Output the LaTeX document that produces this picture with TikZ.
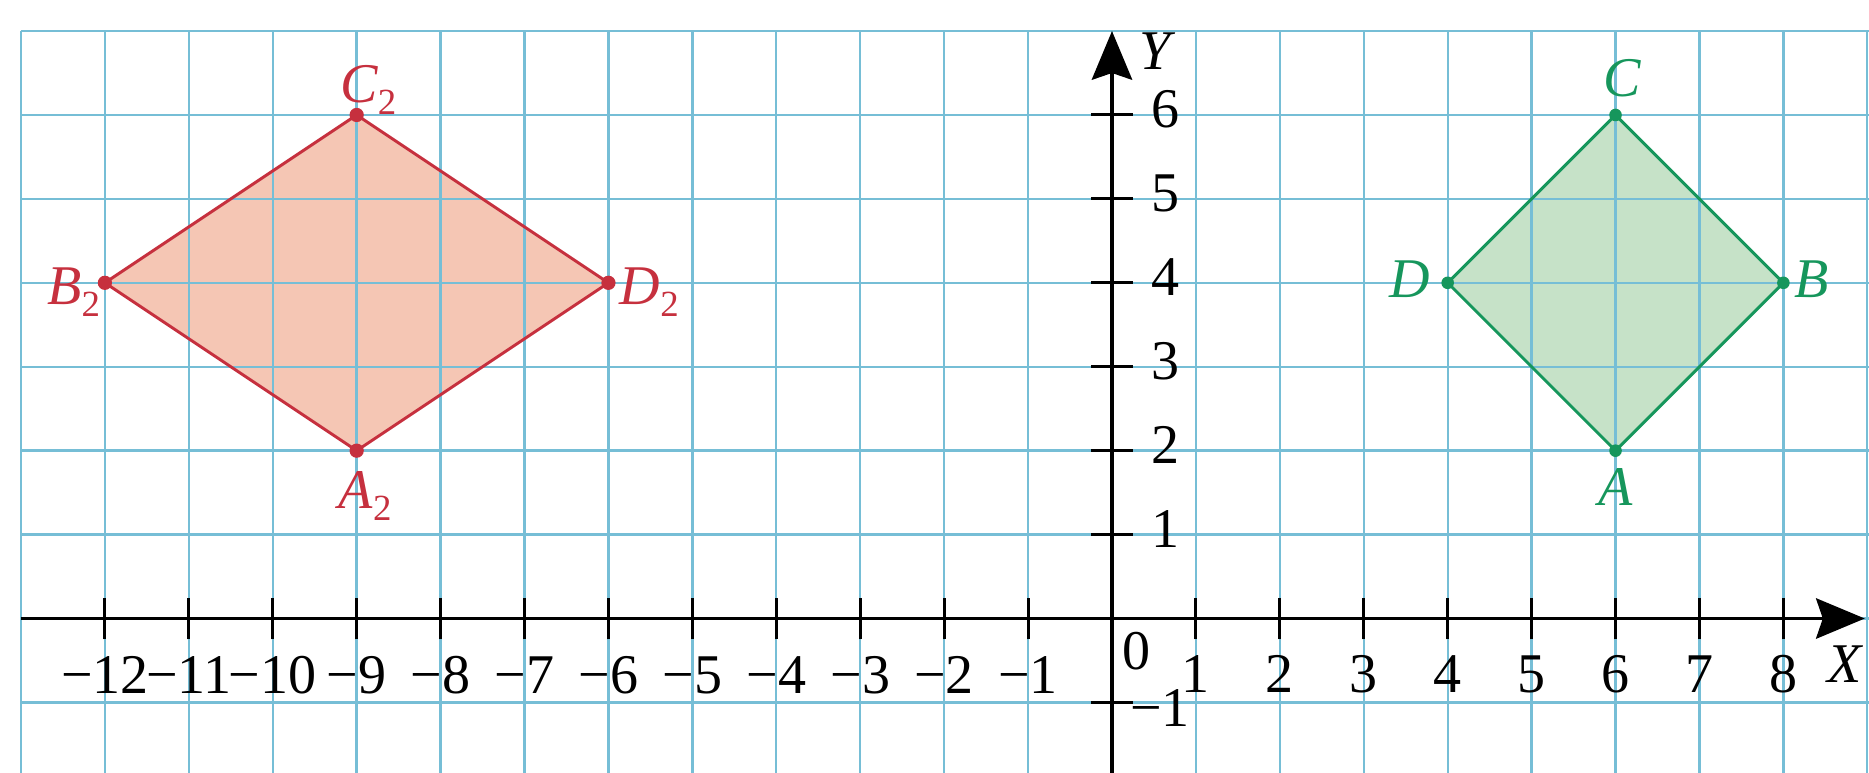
\documentclass[tikz,border=0pt]{standalone}
\usepackage{xcolor}
\usepackage{tikz}
\usepackage{amsmath}
\usepackage{fontspec}
\setmainfont{Liberation Serif}
\usetikzlibrary{arrows.meta}

\definecolor{gridblue}{RGB}{118,190,214}
\definecolor{redline}{RGB}{198,48,62}
\definecolor{redfill}{RGB}{245,198,180}
\definecolor{greenline}{RGB}{22,150,92}
\definecolor{greenfill}{RGB}{198,226,200}

\newcommand{\lowsub}[1]{\raisebox{-1.4mm}{\upshape\fontsize{12.5}{14}\selectfont #1}}

\tikzset{
  gridline/.style={gridblue, line width=0.8pt},
  axisline/.style={line width=1.3pt, -{Stealth[length=5.8mm,width=4.8mm,inset=0.8mm]}},
  tickmark/.style={line width=1pt},
  ticklabel/.style={font=\fontsize{19}{22}\selectfont, inner sep=0pt, anchor=base},
  ptlabel/.style={font=\fontsize{19}{22}\selectfont\itshape, inner sep=0pt},
  vertex/.style={circle, fill, inner sep=0pt, minimum size=1.5mm},
}

\begin{document}
\begin{tikzpicture}
\useasboundingbox (-13.25,-1.84) rectangle (9.02,7.37);

% vertices of the two rhombi
\coordinate (A2) at (-9,2);
\coordinate (B2) at (-12,4);
\coordinate (C2) at (-9,6);
\coordinate (D2) at (-6,4);
\coordinate (A) at (6,2);
\coordinate (B) at (8,4);
\coordinate (C) at (6,6);
\coordinate (D) at (4,4);

% fillings first, the grid shows through
\fill[redfill] (A2) -- (B2) -- (C2) -- (D2) -- cycle;
\fill[greenfill] (A) -- (B) -- (C) -- (D) -- cycle;

% grid
\foreach \x in {-13,...,9}
  \draw[gridline] (\x,7) -- (\x,-1.84);
\foreach \y in {-1,...,7}
  \draw[gridline] (-13,\y) -- (9.02,\y);

% axes
\coordinate (xstart) at (-13,0);
\coordinate (xend) at (8.97,0);
\coordinate (ystart) at (0,-1.84);
\coordinate (yend) at (0,7);
\draw[axisline] (xstart) -- (xend);
\draw[axisline] (ystart) -- (yend);
\node[ptlabel, anchor=base] (xname) at (8.73,-0.76) {X};
\node[ptlabel, anchor=base] (yname) at (0.51,6.54) {Y};
\node[ticklabel] (orig) at (0.29,-0.61) {0};

% ticks and numbers
\foreach \x in {1,...,12} {
  \draw[tickmark] (-\x,-0.25) -- (-\x,0.25);
  \node[ticklabel] (xn\x) at (-\x,-0.89) {−\x};
}
\foreach \x in {1,...,8} {
  \draw[tickmark] (\x,-0.25) -- (\x,0.25);
  \node[ticklabel] (xp\x) at (\x,-0.88) {\x};
}
\foreach \y in {1,...,6} {
  \draw[tickmark] (-0.25,\y) -- (0.25,\y);
  \node[ticklabel] (yp\y) at (0.64,\y-0.15) {\y};
}
\draw[tickmark] (-0.25,-1) -- (0.25,-1);
\node[ticklabel] (yn1) at (0.57,-1.29) {−1};

% red rhombus
\draw[redline, line width=1pt] (A2) -- (B2) -- (C2) -- (D2) -- cycle;
\foreach \p in {A2,B2,C2,D2}
  \node[vertex, redline, minimum size=1.7mm] (dot\p) at (\p) {};
\node[ptlabel, redline, anchor=base west] (labA2) at (-9.22,1.31) {A\lowsub{2}};
\node[ptlabel, redline, anchor=base east] (labB2) at (-12.05,3.74) {B\lowsub{2}};
\node[ptlabel, redline, anchor=base west] (labC2) at (-9.2,6.15) {C\lowsub{2}};
\node[ptlabel, redline, anchor=base west] (labD2) at (-5.87,3.74) {D\lowsub{2}};

% green rhombus
\draw[greenline, line width=1pt] (A) -- (B) -- (C) -- (D) -- cycle;
\foreach \p in {A,B,C,D}
  \node[vertex, greenline] (dot\p) at (\p) {};
\node[ptlabel, greenline, anchor=base] (labA) at (6,1.35) {A};
\node[ptlabel, greenline, anchor=base west] (labB) at (8.13,3.82) {B};
\node[ptlabel, greenline, anchor=base] (labC) at (6.08,6.22) {C};
\node[ptlabel, greenline, anchor=base east] (labD) at (3.8,3.82) {D};
\end{tikzpicture}
\end{document}
